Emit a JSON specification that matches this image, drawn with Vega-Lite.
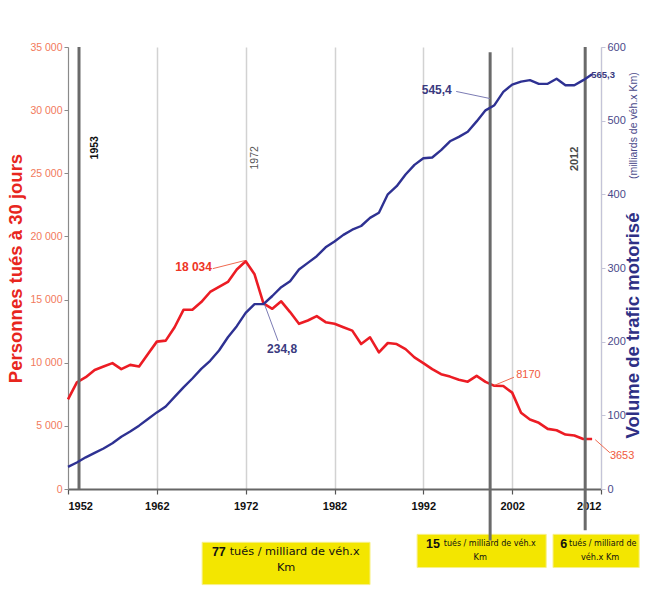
{
  "$schema": "https://vega.github.io/schema/vega-lite/v6.json",
  "width": 533,
  "height": 442,
  "autosize": {"type": "none"},
  "padding": {"left": 68, "top": 47, "right": 44, "bottom": 125},
  "background": "white",
  "config": {"view": {"stroke": null}, "font": "Liberation Sans", "text": {"font": "Liberation Sans"}},
  "datasets": {
    "series": [
      {"year": 1952, "tues": 7100, "trafic": 30},
      {"year": 1953, "tues": 8450, "trafic": 36},
      {"year": 1954, "tues": 8850, "trafic": 43},
      {"year": 1955, "tues": 9430, "trafic": 49},
      {"year": 1956, "tues": 9700, "trafic": 55},
      {"year": 1957, "tues": 9970, "trafic": 62},
      {"year": 1958, "tues": 9490, "trafic": 71},
      {"year": 1959, "tues": 9830, "trafic": 78},
      {"year": 1960, "tues": 9700, "trafic": 86},
      {"year": 1961, "tues": 10690, "trafic": 95},
      {"year": 1962, "tues": 11670, "trafic": 104},
      {"year": 1963, "tues": 11750, "trafic": 112},
      {"year": 1964, "tues": 12810, "trafic": 125},
      {"year": 1965, "tues": 14190, "trafic": 138},
      {"year": 1966, "tues": 14190, "trafic": 150},
      {"year": 1967, "tues": 14800, "trafic": 163},
      {"year": 1968, "tues": 15600, "trafic": 174},
      {"year": 1969, "tues": 16000, "trafic": 188},
      {"year": 1970, "tues": 16400, "trafic": 206},
      {"year": 1971, "tues": 17380, "trafic": 221},
      {"year": 1972, "tues": 18034, "trafic": 239},
      {"year": 1973, "tues": 17000, "trafic": 251},
      {"year": 1974, "tues": 14700, "trafic": 251},
      {"year": 1975, "tues": 14270, "trafic": 262},
      {"year": 1976, "tues": 14860, "trafic": 274},
      {"year": 1977, "tues": 14010, "trafic": 282},
      {"year": 1978, "tues": 13080, "trafic": 298},
      {"year": 1979, "tues": 13340, "trafic": 307},
      {"year": 1980, "tues": 13690, "trafic": 316},
      {"year": 1981, "tues": 13210, "trafic": 328},
      {"year": 1982, "tues": 13080, "trafic": 336},
      {"year": 1983, "tues": 12810, "trafic": 345},
      {"year": 1984, "tues": 12540, "trafic": 352},
      {"year": 1985, "tues": 11480, "trafic": 357},
      {"year": 1986, "tues": 12010, "trafic": 368},
      {"year": 1987, "tues": 10820, "trafic": 375},
      {"year": 1988, "tues": 11560, "trafic": 400},
      {"year": 1989, "tues": 11480, "trafic": 411},
      {"year": 1990, "tues": 11080, "trafic": 427},
      {"year": 1991, "tues": 10420, "trafic": 440},
      {"year": 1992, "tues": 9970, "trafic": 449},
      {"year": 1993, "tues": 9490, "trafic": 450},
      {"year": 1994, "tues": 9090, "trafic": 460},
      {"year": 1995, "tues": 8900, "trafic": 472},
      {"year": 1996, "tues": 8650, "trafic": 478},
      {"year": 1997, "tues": 8500, "trafic": 485},
      {"year": 1998, "tues": 8960, "trafic": 499},
      {"year": 1999, "tues": 8480, "trafic": 514},
      {"year": 2000, "tues": 8170, "trafic": 521},
      {"year": 2001, "tues": 8160, "trafic": 539},
      {"year": 2002, "tues": 7630, "trafic": 549},
      {"year": 2003, "tues": 6040, "trafic": 553},
      {"year": 2004, "tues": 5500, "trafic": 555},
      {"year": 2005, "tues": 5240, "trafic": 550},
      {"year": 2006, "tues": 4760, "trafic": 550},
      {"year": 2007, "tues": 4650, "trafic": 557},
      {"year": 2008, "tues": 4310, "trafic": 548},
      {"year": 2009, "tues": 4230, "trafic": 548},
      {"year": 2010, "tues": 3960, "trafic": 555},
      {"year": 2011, "tues": 3960, "trafic": 563}
    ],
    "boxes": [
      {"x": 1967.1, "x2": 1986.0, "y": -4220, "y2": -7570},
      {"x": 1991.3, "x2": 2005.83, "y": -3590, "y2": -6220},
      {"x": 2006.6, "x2": 2016.3, "y": -3590, "y2": -6220}
    ],
    "vrules": [
      {"year": 1953.24, "y": 35000, "y2": 0},
      {"year": 1999.52, "y": 34590, "y2": -4070},
      {"year": 2010.22, "y": 35000, "y2": -3270}
    ],
    "leaders": [
      {"series": "tues", "x": 1968.3, "y": 17450, "x2": 1971.9, "y2": 18090},
      {"series": "tues", "x": 2000.0, "y": 8210, "x2": 2002.2, "y2": 8850},
      {"series": "tues", "x": 2011.35, "y": 3905, "x2": 2013.0, "y2": 2870},
      {"series": "trafic", "x": 1975.65, "y": 11720, "x2": 1974.1, "y2": 14660},
      {"series": "trafic", "x": 1995.7, "y": 31480, "x2": 1999.5, "y2": 30920}
    ],
    "labels": [
      {"label": "18 034", "year": 1968.2, "y": 17610},
      {"label": "234,8", "year": 1976.1, "y": 11080},
      {"label": "545,4", "year": 1995.2, "y": 31560},
      {"label": "565,3", "year": 2010.9, "y": 32760},
      {"label": "8170", "year": 2002.45, "y": 9000},
      {"label": "3653", "year": 2013.0, "y": 2630}
    ],
    "marks": [
      {"label": "1953", "year": 1955.04, "y": 27020},
      {"label": "1972", "year": 1973.06, "y": 26220},
      {"label": "2012", "year": 2009.1, "y": 26140},
      {"label": "(milliards de véh.x Km)", "year": 2015.75, "y": 28770}
    ],
    "boxtext": [
      {"kind": "num", "text": "77", "year": 1968.2, "y": -5000},
      {"kind": "big1", "text": "tués / milliard de véh.x", "year": 1970.2, "y": -5000},
      {"kind": "big2", "text": "Km", "year": 1976.55, "y": -6220},
      {"kind": "num", "text": "15", "year": 1992.3, "y": -4380},
      {"kind": "small1", "text": "tués / milliard de véh.x", "year": 1994.3, "y": -4380},
      {"kind": "small2", "text": "Km", "year": 1998.4, "y": -5500},
      {"kind": "num", "text": "6", "year": 2007.4, "y": -4380},
      {"kind": "small1", "text": "tués / milliard de", "year": 2008.4, "y": -4380},
      {"kind": "small2", "text": "véh.x Km", "year": 2011.9, "y": -5500}
    ]
  },
  "layer": [
    {
      "layer": [
        {
          "data": {"name": "series"},
          "mark": {"type": "line", "color": "#ec1c24", "strokeWidth": 2.6, "strokeJoin": "round"},
          "encoding": {
            "x": {
              "field": "year", "type": "quantitative",
              "scale": {"domain": [1952, 2012], "nice": false, "zero": false},
              "axis": {
                "values": [1952, 1962, 1972, 1982, 1992, 2002, 2012],
                "format": "d", "title": null,
                "labelFont": "Liberation Sans", "labelFontWeight": "bold", "labelFontSize": 11, "labelColor": "#111111",
                "labelPadding": 6,
                "domainColor": "#666666", "domainWidth": 2,
                "tickColor": "#555555", "tickSize": 5, "tickWidth": 1.2,
                "grid": true, "gridColor": "#d2d2d2", "gridWidth": 1.5
              }
            },
            "y": {
              "field": "tues", "type": "quantitative",
              "scale": {"domain": [0, 35000], "nice": false},
              "axis": {
                "orient": "left",
                "values": [0, 5000, 10000, 15000, 20000, 25000, 30000, 35000],
                "labelExpr": "replace(format(datum.value, ','), ',', ' ')",
                "labelColor": "#f27a5c", "labelFontSize": 10.5, "labelFont": "Liberation Sans", "labelPadding": 2,
                "domainColor": "#8a8a8a", "tickColor": "#8a8a8a", "tickSize": 4, "grid": false,
                "title": "Personnes tués à 30 jours",
                "titleColor": "#e8261e", "titleFontSize": 18.5, "titleFontWeight": "bold", "titleFont": "Liberation Sans",
                "titlePadding": 4
              }
            }
          }
        },
        {
          "data": {"name": "boxes"},
          "mark": {"type": "rect", "color": "#f3e600", "stroke": "#f7f08a", "strokeWidth": 1},
          "encoding": {
            "x": {"field": "x", "type": "quantitative", "scale": {"domain": [1952, 2012], "nice": false, "zero": false}},
            "x2": {"field": "x2"},
            "y": {"field": "y", "type": "quantitative", "scale": {"domain": [0, 35000], "nice": false}},
            "y2": {"field": "y2"}
          }
        },
        {
          "data": {"name": "vrules"},
          "mark": {"type": "rule", "color": "#6a6a6a", "strokeWidth": 3},
          "encoding": {
            "x": {"field": "year", "type": "quantitative", "scale": {"domain": [1952, 2012], "nice": false, "zero": false}},
            "y": {"field": "y", "type": "quantitative", "scale": {"domain": [0, 35000], "nice": false}},
            "y2": {"field": "y2"}
          }
        },
        {
          "data": {"name": "leaders"},
          "transform": [{"filter": "datum.series == 'tues'"}],
          "mark": {"type": "rule", "color": "#f06a50", "strokeWidth": 1},
          "encoding": {
            "x": {"field": "x", "type": "quantitative", "scale": {"domain": [1952, 2012], "nice": false, "zero": false}},
            "x2": {"field": "x2"},
            "y": {"field": "y", "type": "quantitative", "scale": {"domain": [0, 35000], "nice": false}},
            "y2": {"field": "y2"}
          }
        },
        {
          "data": {"name": "leaders"},
          "transform": [{"filter": "datum.series == 'trafic'"}],
          "mark": {"type": "rule", "color": "#7c7cb4", "strokeWidth": 1},
          "encoding": {
            "x": {"field": "x", "type": "quantitative", "scale": {"domain": [1952, 2012], "nice": false, "zero": false}},
            "x2": {"field": "x2"},
            "y": {"field": "y", "type": "quantitative", "scale": {"domain": [0, 35000], "nice": false}},
            "y2": {"field": "y2"}
          }
        },
        {
          "data": {"name": "labels"},
          "transform": [{"filter": "datum.label == '18 034'"}],
          "mark": {"type": "text", "align": "right", "baseline": "middle", "fontSize": 12, "fontWeight": "bold", "color": "#ee3524"},
          "encoding": {
            "x": {"field": "year", "type": "quantitative", "scale": {"domain": [1952, 2012], "nice": false, "zero": false}},
            "y": {"field": "y", "type": "quantitative", "scale": {"domain": [0, 35000], "nice": false}},
            "text": {"field": "label"}
          }
        },
        {
          "data": {"name": "labels"},
          "transform": [{"filter": "datum.label == '8170' || datum.label == '3653'"}],
          "mark": {"type": "text", "align": "left", "baseline": "middle", "fontSize": 11, "color": "#f05a40"},
          "encoding": {
            "x": {"field": "year", "type": "quantitative", "scale": {"domain": [1952, 2012], "nice": false, "zero": false}},
            "y": {"field": "y", "type": "quantitative", "scale": {"domain": [0, 35000], "nice": false}},
            "text": {"field": "label"}
          }
        },
        {
          "data": {"name": "labels"},
          "transform": [{"filter": "datum.label == '234,8'"}],
          "mark": {"type": "text", "align": "center", "baseline": "middle", "fontSize": 12, "fontWeight": "bold", "color": "#3a3a80"},
          "encoding": {
            "x": {"field": "year", "type": "quantitative", "scale": {"domain": [1952, 2012], "nice": false, "zero": false}},
            "y": {"field": "y", "type": "quantitative", "scale": {"domain": [0, 35000], "nice": false}},
            "text": {"field": "label"}
          }
        },
        {
          "data": {"name": "labels"},
          "transform": [{"filter": "datum.label == '545,4'"}],
          "mark": {"type": "text", "align": "right", "baseline": "middle", "fontSize": 12, "fontWeight": "bold", "color": "#3a3a80"},
          "encoding": {
            "x": {"field": "year", "type": "quantitative", "scale": {"domain": [1952, 2012], "nice": false, "zero": false}},
            "y": {"field": "y", "type": "quantitative", "scale": {"domain": [0, 35000], "nice": false}},
            "text": {"field": "label"}
          }
        },
        {
          "data": {"name": "labels"},
          "transform": [{"filter": "datum.label == '565,3'"}],
          "mark": {"type": "text", "align": "left", "baseline": "middle", "fontSize": 9.5, "fontWeight": "bold", "color": "#3a3a80"},
          "encoding": {
            "x": {"field": "year", "type": "quantitative", "scale": {"domain": [1952, 2012], "nice": false, "zero": false}},
            "y": {"field": "y", "type": "quantitative", "scale": {"domain": [0, 35000], "nice": false}},
            "text": {"field": "label"}
          }
        },
        {
          "data": {"name": "marks"},
          "transform": [{"filter": "datum.label == '1953'"}],
          "mark": {"type": "text", "angle": 270, "align": "center", "baseline": "middle", "fontSize": 10.5, "fontWeight": "bold", "color": "#111111"},
          "encoding": {
            "x": {"field": "year", "type": "quantitative", "scale": {"domain": [1952, 2012], "nice": false, "zero": false}},
            "y": {"field": "y", "type": "quantitative", "scale": {"domain": [0, 35000], "nice": false}},
            "text": {"field": "label"}
          }
        },
        {
          "data": {"name": "marks"},
          "transform": [{"filter": "datum.label == '1972'"}],
          "mark": {"type": "text", "angle": 270, "align": "center", "baseline": "middle", "fontSize": 10.5, "color": "#555555"},
          "encoding": {
            "x": {"field": "year", "type": "quantitative", "scale": {"domain": [1952, 2012], "nice": false, "zero": false}},
            "y": {"field": "y", "type": "quantitative", "scale": {"domain": [0, 35000], "nice": false}},
            "text": {"field": "label"}
          }
        },
        {
          "data": {"name": "marks"},
          "transform": [{"filter": "datum.label == '2012'"}],
          "mark": {"type": "text", "angle": 270, "align": "center", "baseline": "middle", "fontSize": 11, "fontWeight": "bold", "color": "#4a4a4a"},
          "encoding": {
            "x": {"field": "year", "type": "quantitative", "scale": {"domain": [1952, 2012], "nice": false, "zero": false}},
            "y": {"field": "y", "type": "quantitative", "scale": {"domain": [0, 35000], "nice": false}},
            "text": {"field": "label"}
          }
        },
        {
          "data": {"name": "marks"},
          "transform": [{"filter": "datum.label == '(milliards de véh.x Km)'"}],
          "mark": {"type": "text", "angle": 270, "align": "center", "baseline": "middle", "fontSize": 10.5, "color": "#4a4a8a"},
          "encoding": {
            "x": {"field": "year", "type": "quantitative", "scale": {"domain": [1952, 2012], "nice": false, "zero": false}},
            "y": {"field": "y", "type": "quantitative", "scale": {"domain": [0, 35000], "nice": false}},
            "text": {"field": "label"}
          }
        },
        {
          "data": {"name": "boxtext"},
          "transform": [{"filter": "datum.kind == 'num'"}],
          "mark": {"type": "text", "align": "left", "baseline": "middle", "fontSize": 12.5, "fontWeight": "bold", "color": "#111111"},
          "encoding": {
            "x": {"field": "year", "type": "quantitative", "scale": {"domain": [1952, 2012], "nice": false, "zero": false}},
            "y": {"field": "y", "type": "quantitative", "scale": {"domain": [0, 35000], "nice": false}},
            "text": {"field": "text"}
          }
        },
        {
          "data": {"name": "boxtext"},
          "transform": [{"filter": "datum.kind == 'big1'"}],
          "mark": {"type": "text", "align": "left", "baseline": "middle", "fontSize": 11.3, "font": "DejaVu Sans", "color": "#111111"},
          "encoding": {
            "x": {"field": "year", "type": "quantitative", "scale": {"domain": [1952, 2012], "nice": false, "zero": false}},
            "y": {"field": "y", "type": "quantitative", "scale": {"domain": [0, 35000], "nice": false}},
            "text": {"field": "text"}
          }
        },
        {
          "data": {"name": "boxtext"},
          "transform": [{"filter": "datum.kind == 'big2'"}],
          "mark": {"type": "text", "align": "center", "baseline": "middle", "fontSize": 11.3, "font": "DejaVu Sans", "color": "#111111"},
          "encoding": {
            "x": {"field": "year", "type": "quantitative", "scale": {"domain": [1952, 2012], "nice": false, "zero": false}},
            "y": {"field": "y", "type": "quantitative", "scale": {"domain": [0, 35000], "nice": false}},
            "text": {"field": "text"}
          }
        },
        {
          "data": {"name": "boxtext"},
          "transform": [{"filter": "datum.kind == 'small1'"}],
          "mark": {"type": "text", "align": "left", "baseline": "middle", "fontSize": 8, "font": "DejaVu Sans", "color": "#111111"},
          "encoding": {
            "x": {"field": "year", "type": "quantitative", "scale": {"domain": [1952, 2012], "nice": false, "zero": false}},
            "y": {"field": "y", "type": "quantitative", "scale": {"domain": [0, 35000], "nice": false}},
            "text": {"field": "text"}
          }
        },
        {
          "data": {"name": "boxtext"},
          "transform": [{"filter": "datum.kind == 'small2'"}],
          "mark": {"type": "text", "align": "center", "baseline": "middle", "fontSize": 8.2, "font": "DejaVu Sans", "color": "#111111"},
          "encoding": {
            "x": {"field": "year", "type": "quantitative", "scale": {"domain": [1952, 2012], "nice": false, "zero": false}},
            "y": {"field": "y", "type": "quantitative", "scale": {"domain": [0, 35000], "nice": false}},
            "text": {"field": "text"}
          }
        }
      ]
    },
    {
      "layer": [
        {
          "data": {"name": "series"},
          "mark": {"type": "line", "color": "#2e3192", "strokeWidth": 2.4, "strokeJoin": "round"},
          "encoding": {
            "x": {"field": "year", "type": "quantitative", "scale": {"domain": [1952, 2012], "nice": false, "zero": false}},
            "y": {
              "field": "trafic", "type": "quantitative",
              "scale": {"domain": [0, 600], "nice": false},
              "axis": {
                "orient": "right",
                "values": [0, 100, 200, 300, 400, 500, 600],
                "labelColor": "#4a4a8a", "labelFontSize": 11, "labelFont": "Liberation Sans",
                "domainColor": "#c4c4d8", "tickColor": "#c4c4d8", "tickSize": 4, "grid": false,
                "title": "Volume de trafic motorisé",
                "titleColor": "#2e3085", "titleFontSize": 18.5, "titleFontWeight": "bold", "titleFont": "Liberation Sans",
                "titleAngle": 270, "titleY": 278, "titlePadding": 17
              }
            }
          }
        }
      ]
    }
  ],
  "resolve": {"scale": {"y": "independent"}}
}
